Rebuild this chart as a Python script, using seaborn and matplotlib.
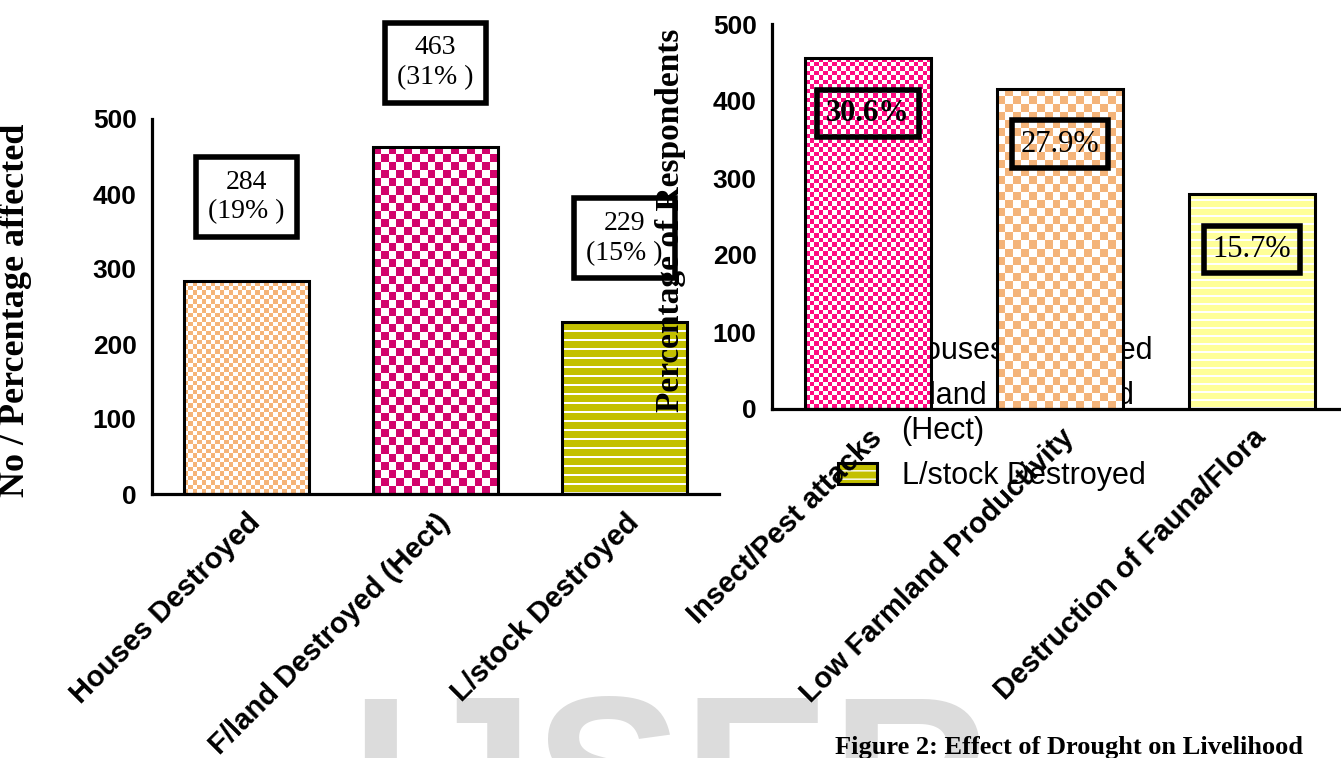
import numpy as np
import matplotlib
matplotlib.use('Agg')
import matplotlib.pyplot as plt
import matplotlib.colors as mcolors
from matplotlib.patches import Patch
from matplotlib.legend_handler import HandlerTuple
import seaborn as sns

# data
left_categories = ['Houses Destroyed', 'F/land Destroyed (Hect)', 'L/stock Destroyed']
left_values = [284, 463, 229]
left_percent = ['19%', '31%', '15%']
legend_labels = ['Houses Destroyed', 'F/land Destroyed\n(Hect)', 'L/stock Destroyed']

right_categories = ['Insect/Pest attacks', 'Low Farmland Productivity', 'Destruction of Fauna/Flora']
right_values = [456, 416, 279]
right_percent = ['30.6%', '27.9%', '15.7%']

left_colors = ['#F5B478', '#D2046C', '#C3C000']
right_colors = ['#FF0A80', '#F4B47A', '#FFFF99']
left_kinds = [('check', 4.5), ('check', 8), ('stripe', 9)]
right_kinds = [('check', 4.5), ('check', 8), ('stripe', 8)]

sns.set_theme(style='white')
plt.rcParams['font.family'] = ['Liberation Sans', 'DejaVu Sans']
plt.rcParams.update({'text.color': 'black', 'axes.labelcolor': 'black',
                     'xtick.color': 'black', 'ytick.color': 'black'})

W, H = 1341, 758
fig = plt.figure(figsize=(W / 100, H / 100), dpi=100)


def px_box(x0, x1, y_top, y_bot):
    return [x0 / W, 1 - y_bot / H, (x1 - x0) / W, (y_bot - y_top) / H]


def add_texture(ax, patch, base, kind, cell):
    # fill the bar with a checker / stripe pattern clipped to the bar
    x0, y0 = patch.get_x(), patch.get_y()
    w, h = patch.get_width(), patch.get_height()
    bb = ax.transData.transform([[x0, y0], [x0 + w, y0 + h]])
    wpx, hpx = bb[1] - bb[0]
    rgb = np.array(mcolors.to_rgb(base))
    white = np.ones(3)
    if kind == 'check':
        nx, ny = max(1, int(round(wpx / cell))), max(1, int(round(hpx / cell)))
        jj, ii = np.meshgrid(np.arange(nx), np.arange(ny))
        mask = (ii + jj) % 2 == 0
    else:
        ny = max(1, int(round(hpx)))
        mask = (np.arange(ny) % cell >= 2)[:, None]
    img = np.where(mask[..., None], rgb, white)
    im = ax.imshow(img, extent=(x0, x0 + w, y0, y0 + h), origin='lower',
                   aspect='auto', interpolation='nearest', zorder=1.5)
    im.set_clip_path(patch)
    patch.set_facecolor('none')
    patch.set_zorder(2)


def style_axes(ax):
    sns.despine(ax=ax)
    for s in ['left', 'bottom']:
        ax.spines[s].set_linewidth(2.3)
        ax.spines[s].set_color('black')
    ax.tick_params(axis='both', length=7, width=2.3, color='black', direction='out')
    ax.tick_params(axis='y', labelsize=19, pad=4)
    ax.set_ylim(0, 500)
    ax.set_yticks([0, 100, 200, 300, 400, 500])
    for lab in ax.get_yticklabels():
        lab.set_fontweight('bold')
    ax.set_xlabel('')


# ---------- left panel ----------
ax1 = fig.add_axes(px_box(152, 719, 119, 494))
sns.barplot(x=left_categories, y=left_values, hue=left_categories, palette=left_colors,
            width=0.66, saturation=1, legend=False, edgecolor='black', linewidth=2.2, ax=ax1)
style_axes(ax1)
ax1.set_xlim(-0.5, 2.5)
ax1.set_xticks(range(3))
ax1.set_xticklabels(left_categories, rotation=45, ha='right', va='top',
                    rotation_mode='anchor', fontsize=21, fontweight='bold')
for p, c, (k, cell) in zip(ax1.patches[:3], left_colors, left_kinds):
    add_texture(ax1, p, c, k, cell)
ax1.set_xlim(-0.5, 2.5)
ax1.set_ylim(0, 500)
ax1.set_ylabel('No / Percentage affected', fontsize=26, fontweight='bold',
               family='Liberation Serif')
ax1.yaxis.set_label_coords(-0.212, 0.49)

for i, (v, pc) in enumerate(zip(left_values, left_percent)):
    ax1.text(i, v + 112, f'{v}\n({pc} )', ha='center', va='center', fontsize=20,
             family='Liberation Serif', linespacing=1.25, zorder=4, clip_on=False,
             bbox=dict(boxstyle='square,pad=0.45', fc='white', ec='black', lw=4))

# legend of left panel, sitting behind the right panel's bars
handles = []
for c, (k, cell) in zip(left_colors, left_kinds):
    face = Patch(facecolor=c, lw=0)
    pat = Patch(facecolor='none', edgecolor='white', hatch='--' if k == 'stripe' else 'xx', lw=0)
    edge = Patch(facecolor='none', edgecolor='black', lw=2.2)
    handles.append((face, pat, edge))
leg = ax1.legend(handles, legend_labels, handler_map={tuple: HandlerTuple(ndivide=1)},
                 loc='upper left', bbox_to_anchor=(838 / W, 1 - 336 / H),
                 bbox_transform=fig.transFigure, frameon=False, fontsize=22,
                 handlelength=1.28, handleheight=0.7, handletextpad=0.8,
                 labelspacing=0.5, borderpad=0, borderaxespad=0)
# put the two-line entry's swatch next to its first line
try:
    leg._legend_handle_box.get_children()[0].get_children()[1].align = 'top'
except Exception:
    pass

# ---------- right panel ----------
ax2 = fig.add_axes(px_box(772, 1348, 24, 409))
ax2.set_facecolor('none')
sns.barplot(x=right_categories, y=right_values, hue=right_categories, palette=right_colors,
            width=0.66, saturation=1, legend=False, edgecolor='black', linewidth=2.2, ax=ax2)
style_axes(ax2)
ax2.set_xlim(-0.5, 2.5)
ax2.set_xticks(range(3))
ax2.set_xticklabels(right_categories, rotation=45, ha='right', va='top',
                    rotation_mode='anchor', fontsize=21, fontweight='bold')
for p, c, (k, cell) in zip(ax2.patches[:3], right_colors, right_kinds):
    add_texture(ax2, p, c, k, cell)
ax2.set_xlim(-0.5, 2.5)
ax2.set_ylim(0, 500)
ax2.set_ylabel('Percentage of Respondents', fontsize=24, fontweight='bold',
               family='Liberation Serif')
ax2.yaxis.set_label_coords(-0.149, 0.49)

for i, (v, pc) in enumerate(zip(right_values, right_percent)):
    ax2.text(i, v - 72, pc, ha='center', va='center', fontsize=22,
             fontweight='bold' if i == 0 else 'normal',
             family='Liberation Serif', zorder=4,
             bbox=dict(boxstyle='square,pad=0.3', fc='none', ec='black', lw=4))

# watermark and caption
fig.text(0.50, 1 - 690 / H, 'IJSER', ha='center', va='top', fontsize=160,
         fontweight='bold', color='#DCDCDC', zorder=-1)
fig.text(835 / W, 1 - 736 / H, 'Figure 2: Effect of Drought on Livelihood',
         ha='left', va='top', fontsize=19, fontweight='bold', family='Liberation Serif')

fig.savefig('out.png', dpi=100)
